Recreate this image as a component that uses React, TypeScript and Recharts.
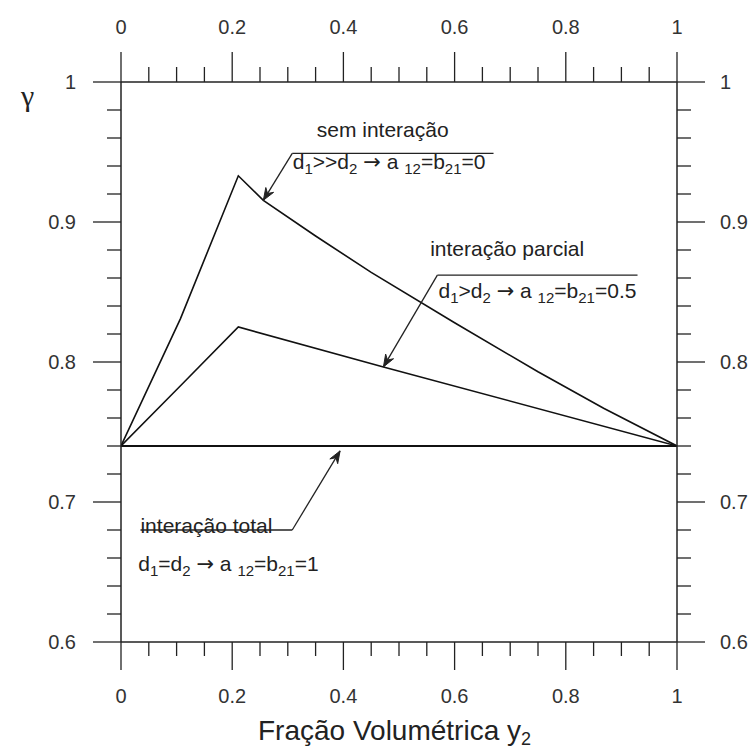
import React from 'react';
import { LineChart, Line, XAxis, YAxis, ReferenceLine, ReferenceDot } from 'recharts';

// ---- axis ticks ----
const xTicks = [0, 0.05, 0.1, 0.15, 0.2, 0.25, 0.3, 0.35, 0.4, 0.45, 0.5, 0.55, 0.6, 0.65, 0.7, 0.75, 0.8, 0.85, 0.9, 0.95, 1];
const yTicks = [0.6, 0.62, 0.64, 0.66, 0.68, 0.7, 0.72, 0.74, 0.76, 0.78, 0.8, 0.82, 0.84, 0.86, 0.88, 0.9, 0.92, 0.94, 0.96, 0.98, 1];

// ---- series ----
const semInteracaoX = [0, 0.107, 0.211, 0.256, 0.35, 0.45, 0.6, 0.75, 0.868, 1];
const semInteracaoY = [0.74, 0.831, 0.933, 0.9155, 0.89, 0.864, 0.828, 0.793, 0.767, 0.74];
const parcialX = [0, 0.107, 0.211, 0.472, 1];
const parcialY = [0.74, 0.783, 0.825, 0.7965, 0.74];
const totalX = [0, 1];
const totalY = [0.74, 0.74];

// ---- annotations (data coordinates) ----
const labelTexts = ['sem interação', 'interação parcial', 'interação total'];
const labelX = [0.352, 0.556, 0.035];
const labelY = [0.961, 0.876, 0.678];

// part kinds: 0 normal, 1 subscript, 2 arrow glyph
const formulaParts = [
  [['d', 0], ['1', 1], ['>>d', 0], ['2', 1], [' ', 0], ['→', 2], [' a ', 0], ['12', 1], ['=b', 0], ['21', 1], ['=0', 0]],
  [['d', 0], ['1', 1], ['>d', 0], ['2', 1], [' ', 0], ['→', 2], [' a ', 0], ['12', 1], ['=b', 0], ['21', 1], ['=0.5', 0]],
  [['d', 0], ['1', 1], ['=d', 0], ['2', 1], [' ', 0], ['→', 2], [' a ', 0], ['12', 1], ['=b', 0], ['21', 1], ['=1', 0]],
] as [string, number][][];
const formulaX = [0.309, 0.571, 0.031];
const formulaY = [0.938, 0.846, 0.651];

// leader lines (plain) and arrows
const leaderFrom = [[0.308, 0.949], [0.569, 0.862], [0.035, 0.68]];
const leaderTo = [[0.67, 0.949], [0.929, 0.862], [0.308, 0.68]];
const arrowFrom = [[0.308, 0.949], [0.569, 0.862], [0.308, 0.68]];
const arrowTo = [[0.256, 0.9155], [0.472, 0.7965], [0.394, 0.7365]];

const toRows = (xs: number[], ys: number[]) => xs.map((x, i) => ({ x, y: ys[i] }));

const FONT = '"Liberation Sans", Arial, Helvetica, sans-serif';
const TICK_COLOR = '#333';
const AXIS_COLOR = '#222';
const TEXT_COLOR = '#222';

const isMajorX = (v: number) => Math.abs(v * 5 - Math.round(v * 5)) < 1e-6;
const isMajorY = (v: number) => Math.abs(v * 10 - Math.round(v * 10)) < 1e-6;
const fmt = (v: number) => {
  const r = Math.round(v * 10) / 10;
  if (r === 0) return '0';
  if (r === 1) return '1';
  return r.toFixed(1);
};

const BottomTick = (p: any) => {
  const v = p.payload.value;
  const major = isMajorX(v);
  return (
    <g>
      <line x1={p.x} x2={p.x} y1={p.y} y2={p.y + (major ? 28 : 14)} stroke={AXIS_COLOR} strokeWidth={1.3} />
      {major && (
        <text x={p.x} y={p.y + 61} textAnchor="middle" fontSize={20} fontFamily={FONT} fill={TICK_COLOR}>
          {fmt(v)}
        </text>
      )}
    </g>
  );
};
const TopTick = (p: any) => {
  const v = p.payload.value;
  const major = isMajorX(v);
  return (
    <g>
      <line x1={p.x} x2={p.x} y1={p.y} y2={p.y - (major ? 30 : 15)} stroke={AXIS_COLOR} strokeWidth={1.3} />
      {major && (
        <text x={p.x} y={p.y - 48} textAnchor="middle" fontSize={20} fontFamily={FONT} fill={TICK_COLOR}>
          {fmt(v)}
        </text>
      )}
    </g>
  );
};
const LeftTick = (p: any) => {
  const v = p.payload.value;
  const major = isMajorY(v);
  return (
    <g>
      <line x1={p.x} x2={p.x - (major ? 28 : 14)} y1={p.y} y2={p.y} stroke={AXIS_COLOR} strokeWidth={1.3} />
      {major && (
        <text x={p.x - 45} y={p.y + 7} textAnchor="end" fontSize={20} fontFamily={FONT} fill={TICK_COLOR}>
          {fmt(v)}
        </text>
      )}
    </g>
  );
};
const RightTick = (p: any) => {
  const v = p.payload.value;
  const major = isMajorY(v);
  return (
    <g>
      <line x1={p.x} x2={p.x + (major ? 28 : 14)} y1={p.y} y2={p.y} stroke={AXIS_COLOR} strokeWidth={1.3} />
      {major && (
        <text x={p.x + 43} y={p.y + 7} textAnchor="start" fontSize={20} fontFamily={FONT} fill={TICK_COLOR}>
          {fmt(v)}
        </text>
      )}
    </g>
  );
};

const Formula = ({ cx, cy, parts }: any) => {
  let level = 0;
  return (
    <text x={cx} y={cy} fontSize={21} fontFamily={FONT} fill={TEXT_COLOR}>
      {parts.map(([t, kind]: [string, number], i: number) => {
        const sub = kind === 1 ? 1 : 0;
        const dy = sub === level ? 0 : sub ? 5 : -5;
        level = sub;
        if (kind === 2) {
          return (
            <tspan key={i} dy={dy} fontSize={21} fontFamily='"DejaVu Sans", sans-serif'>
              {t}
            </tspan>
          );
        }
        return (
          <tspan key={i} dy={dy} fontSize={sub ? 15 : 21}>
            {t}
          </tspan>
        );
      })}
    </text>
  );
};

const Arrow = (p: any) => {
  const { x1, y1, x2, y2 } = p;
  const ang = Math.atan2(y2 - y1, x2 - x1);
  const L = 13;
  const W = 0.36;
  const ax = x2 - L * Math.cos(ang - W);
  const ay = y2 - L * Math.sin(ang - W);
  const bx = x2 - L * Math.cos(ang + W);
  const by = y2 - L * Math.sin(ang + W);
  return (
    <g>
      <line x1={x1} y1={y1} x2={x2} y2={y2} stroke="#222" strokeWidth={1.3} />
      <polygon points={`${ax},${ay} ${x2},${y2} ${bx},${by} ${x2 - 8 * Math.cos(ang)},${y2 - 8 * Math.sin(ang)}`} fill="#222" stroke="#222" strokeWidth={1} />
    </g>
  );
};

const Plain = (p: any) => <line x1={p.x1} y1={p.y1} x2={p.x2} y2={p.y2} stroke="#222" strokeWidth={1.3} />;

export default function App() {
  return (
    <div style={{ position: 'absolute', left: 0, top: 0, width: 750, height: 751, background: '#fff' }}>
      <LineChart width={750} height={751} margin={{ top: 52, right: 13, bottom: 79, left: 61 }}>
        <XAxis
          xAxisId="bottom"
          orientation="bottom"
          type="number"
          dataKey="x"
          domain={[0, 1]}
          ticks={xTicks}
          interval={0}
          allowDataOverflow
          height={30}
          tickSize={0}
          tickMargin={0}
          tickLine={false}
          axisLine={{ stroke: AXIS_COLOR, strokeWidth: 1.5 }}
          tick={<BottomTick />}
          label={{
            content: (lp: any) => {
              const vb = lp.viewBox || { x: 121, y: 642, width: 556 };
              return (
                <text x={vb.x + 137} y={vb.y + 98} fontSize={28} fontFamily={FONT} fill={TEXT_COLOR}>
                  Fração Volumétrica y
                  <tspan fontSize={18} dy={5}>2</tspan>
                </text>
              );
            },
          }}
        />
        <XAxis
          xAxisId="top"
          orientation="top"
          type="number"
          dataKey="x"
          domain={[0, 1]}
          ticks={xTicks}
          interval={0}
          allowDataOverflow
          height={30}
          tickSize={0}
          tickMargin={0}
          tickLine={false}
          axisLine={{ stroke: AXIS_COLOR, strokeWidth: 1.5 }}
          tick={<TopTick />}
        />
        <YAxis
          yAxisId="left"
          orientation="left"
          type="number"
          domain={[0.6, 1]}
          ticks={yTicks}
          interval={0}
          allowDataOverflow
          width={60}
          tickSize={0}
          tickMargin={0}
          tickLine={false}
          axisLine={{ stroke: AXIS_COLOR, strokeWidth: 1.5 }}
          tick={<LeftTick />}
          label={{
            content: (lp: any) => {
              const vb = lp.viewBox || { x: 61, y: 82 };
              return (
                <text x={vb.x - 40} y={vb.y + 24} fontSize={30} fontFamily='"Liberation Serif", "DejaVu Serif", serif' fill={TEXT_COLOR}>
                  γ
                </text>
              );
            },
          }}
        />
        <YAxis
          yAxisId="right"
          orientation="right"
          type="number"
          domain={[0.6, 1]}
          ticks={yTicks}
          interval={0}
          allowDataOverflow
          width={60}
          tickSize={0}
          tickMargin={0}
          tickLine={false}
          axisLine={{ stroke: AXIS_COLOR, strokeWidth: 1.5 }}
          tick={<RightTick />}
        />

        <Line xAxisId="bottom" yAxisId="left" data={toRows(totalX, totalY)} dataKey="y" type="linear" stroke="#111" strokeWidth={1.8} dot={false} isAnimationActive={false} />
        <Line xAxisId="bottom" yAxisId="left" data={toRows(parcialX, parcialY)} dataKey="y" type="linear" stroke="#111" strokeWidth={1.6} dot={false} isAnimationActive={false} />
        <Line xAxisId="bottom" yAxisId="left" data={toRows(semInteracaoX, semInteracaoY)} dataKey="y" type="linear" stroke="#111" strokeWidth={1.6} dot={false} isAnimationActive={false} />

        {leaderFrom.map((f, i) => (
          <ReferenceLine
            key={'ld' + i}
            xAxisId="bottom"
            yAxisId="left"
            segment={[{ x: f[0], y: f[1] }, { x: leaderTo[i][0], y: leaderTo[i][1] }]}
            shape={Plain}
          />
        ))}
        {arrowFrom.map((f, i) => (
          <ReferenceLine
            key={'ar' + i}
            xAxisId="bottom"
            yAxisId="left"
            segment={[{ x: f[0], y: f[1] }, { x: arrowTo[i][0], y: arrowTo[i][1] }]}
            shape={Arrow}
          />
        ))}
        {labelTexts.map((t, i) => (
          <ReferenceDot
            key={'lb' + i}
            xAxisId="bottom"
            yAxisId="left"
            x={labelX[i]}
            y={labelY[i]}
            r={1}
            shape={(p: any) => (
              <text x={p.cx} y={p.cy} fontSize={21} fontFamily={FONT} fill={TEXT_COLOR}>
                {t}
              </text>
            )}
          />
        ))}
        {formulaParts.map((parts, i) => (
          <ReferenceDot
            key={'fm' + i}
            xAxisId="bottom"
            yAxisId="left"
            x={formulaX[i]}
            y={formulaY[i]}
            r={1}
            shape={(p: any) => <Formula cx={p.cx} cy={p.cy} parts={parts} />}
          />
        ))}
      </LineChart>
    </div>
  );
}
